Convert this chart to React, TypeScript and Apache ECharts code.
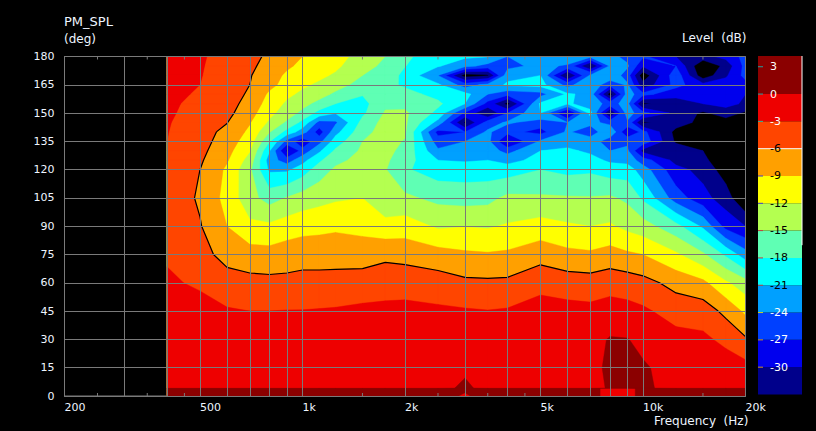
import React, { useEffect, useRef } from "react";
import * as echarts from "echarts";

const FONT = "'DejaVu Sans', sans-serif";
const TEXT = "#eef5ff";
const GRID = "#7a7a7a";

// Level thresholds (dB) and the colour of the band above each of them
const levelFloors = [-33, -30, -27, -24, -21, -18, -15, -12, -9, -6, -3, 0];
const levelTops = [-30, -27, -24, -21, -18, -15, -12, -9, -6, -3, 0, 4.18];
const levelColors = ["#00008B", "#0000EE", "#0040FF", "#00A0FF", "#00FFFF", "#5FFFB4", "#B4FF50", "#FFFF00", "#FFA000", "#FF4500", "#EE0000", "#8B0000"];
const levelLabels = [3, 0, -3, -6, -9, -12, -15, -18, -21, -24, -27, -30];
const labelColors = ["#fff", "#fff", "#fff", "#000", "#000", "#000", "#000", "#000", "#000", "#fff", "#fff", "#fff"];
const tickColors = ["#20a0a0", "#20a0a0", "#20c0a0", "#ffffff", "#4040d0", "#4040d0", "#c04040", "#c04040", "#c04040", "#d0d020", "#d09020", "#d09020"];

const xGridValues = [200, 300, 400, 500, 600, 700, 800, 900, 1000, 2000, 3000, 4000, 5000, 6000, 7000, 8000, 9000, 10000, 20000];
const xLabelValues = [200, 500, 1000, 2000, 5000, 10000, 20000];
const xMinorTicks = [250, 350, 450, 1500, 2500, 3500, 4500, 15000];
const CONTOUR_LEVEL = -6;

const freqs = [400, 500, 600, 700, 800, 900, 1000, 1120, 1250, 1500, 1750, 2000, 2500, 3000, 3500, 4000, 5000, 6000, 7000, 8000, 9000, 10000, 12500, 15000, 17500, 20000];
const degs = [0, 4, 4.2, 15, 30, 45, 60, 75, 90, 105, 120, 125, 130, 135, 140, 145, 150, 155, 160, 165, 170, 175, 180];

// Level in dB at each angle in degs, one list per frequency in freqs
const f400 = [1, 1, -1.5, -1.5, -1.5, -2, -2.6, -3.3, -3.8, -4, -3.9, -3.5, -3.2, -3, -2.9, -2.8, -2.6, -2.5, -2.3, -2.2, -2.1, -2, -2];
const f500 = [1, 1, -1.5, -1.6, -1.6, -2, -3.4, -5, -5.8, -6.4, -6, -5.6, -5.2, -4.8, -4.6, -4.3, -4, -3.7, -3.3, -3, -2.85, -2.75, -2.65];
const f600 = [1, 1, -1.5, -1.7, -1.5, -2.7, -4.8, -7, -9, -10, -9.5, -8.7, -8, -7.5, -6.9, -5.9, -5.2, -4.9, -4.7, -4.5, -4.4, -4.2, -4];
const f700 = [1, 1, -1.5, -1.4, -1.5, -3, -5.1, -7.7, -11.3, -14, -14.4, -13.2, -11.8, -10.5, -9.6, -8.8, -7.8, -7, -6.4, -6, -5.8, -5.5, -5.2];
const f800 = [1, 1, -1.5, -1.4, -1.5, -3, -5.2, -7.9, -11.4, -16.2, -21.5, -22.5, -20.8, -17.8, -14.8, -12.5, -11.2, -10.3, -9.5, -8.2, -7.7, -6.9, -6.5];
const f900 = [1, 1, -1.5, -1.3, -1.4, -2.9, -5.2, -7.5, -10.5, -14.8, -21.5, -25.5, -30.5, -25, -19, -15.5, -13.5, -12.5, -11.4, -10, -9.5, -8.5, -8];
const f1000 = [1, 1, -1.5, -1.2, -1.3, -2.9, -5, -7.2, -10, -13.7, -19.5, -22, -26, -29, -22.5, -18.8, -15.8, -14, -12.6, -11.5, -10.5, -9.7, -9];
const f1120 = [1, 1, -1.5, -1.1, -1.2, -2.8, -5, -7.2, -9.8, -13, -16.5, -18.5, -21.5, -25, -28.5, -25, -19, -16, -13.8, -12.5, -11.4, -10.5, -10];
const f1250 = [1, 1, -1.5, -1, -1.1, -2.7, -4.9, -7.2, -9.5, -12.4, -14.5, -15.8, -17.5, -19.5, -22, -24.5, -20.8, -18, -15.6, -13.7, -12.4, -11.4, -11];
const f1500 = [1, 1, -1.5, -0.8, -0.9, -2.3, -4.8, -7.2, -10, -12, -13.5, -14, -14.5, -15, -16, -17, -18.6, -19, -17.8, -16.2, -15, -14, -13];
const f1750 = [1, 1, -1.5, -0.7, -0.9, -2.2, -4.4, -6.6, -11, -14.2, -14.8, -14.5, -14.2, -14, -13.8, -14, -14.7, -15.6, -17, -17, -16.3, -15.6, -15];
const f2000 = [1, 1, -1.5, -0.7, -0.9, -2.2, -4.2, -7, -10.5, -14.4, -17.6, -16.6, -15.8, -15.2, -14.6, -14.5, -14.5, -15.8, -16.9, -18.5, -18.8, -17.9, -17.5];
const f2500 = [1, 1, -1.5, -0.8, -1, -2.5, -4.6, -7.8, -12.4, -15.8, -19.5, -21, -23.5, -25.5, -28, -22, -18.8, -17.4, -19, -20.5, -24, -20.7, -19.5];
const f3000 = [-0.3, 0.4, 0.9, -0.9, -1, -2.7, -5.4, -8.5, -12.1, -16.2, -19.5, -21.3, -22, -24, -27, -33.5, -27.5, -21, -20, -25.5, -34.5, -23, -20.5];
const f3500 = [1, 1, -1.5, -0.9, -1.1, -2.9, -5.5, -8.7, -12.3, -15.9, -19.5, -21, -22.5, -23, -23.5, -25.5, -33, -28, -24, -23, -33.5, -25, -20.8];
const f4000 = [1, 1, -1.5, -0.5, -1, -2.7, -5.4, -8.5, -11.7, -14.3, -19.5, -22, -25, -30.5, -26, -23.5, -27, -34, -26, -20.5, -22, -25, -24];
const f5000 = [1, 1, -1.5, -0.5, -0.8, -1.8, -3.9, -7.2, -10.8, -14.6, -18, -20, -21, -23.5, -28, -25.5, -21, -20.5, -25, -20, -21, -23, -24];
const f6000 = [1, 1, -1.5, -0.5, -1, -2, -4.5, -8.2, -11.6, -14.7, -18.8, -19, -20.5, -22, -23.5, -24, -31, -20.5, -20.5, -25, -33.5, -24.5, -21];
const f7000 = [1, 1, -1.5, -1.5, -0.9, -2.2, -4.7, -8.5, -12, -14.8, -18.5, -20, -21.5, -22, -26, -23, -20, -22.5, -22, -21.5, -23.5, -33.5, -23];
const f8000 = [-1, -1, 0.5, 1, 0.2, -1.7, -4.2, -7.8, -11.6, -14.6, -19.5, -21.5, -24, -26, -21, -25, -33.5, -25, -34.5, -26, -21.5, -23.5, -23];
const f9000 = [-1, -1, 0.5, 1, 0.1, -2, -4.5, -8.5, -12.8, -15.6, -19.5, -22, -23.5, -24.5, -30, -24.5, -22.5, -23, -22.5, -23.5, -25.5, -23.5, -25];
const f10000 = [1, 1, 0.8, 0.3, -0.7, -2.5, -5, -9, -13.7, -18.5, -22.5, -25.5, -31, -25, -26, -33.5, -26, -33.5, -26, -32, -35, -29.5, -26.5];
const f12500 = [1, 1, -1.5, -1, -2, -4.2, -7, -11.5, -17, -25.5, -29, -31, -31, -33.5, -34, -31.5, -31, -31.5, -29, -26, -25, -27, -30];
const f15000 = [1, 1, -1.5, -1.2, -2.4, -4.4, -8.3, -14.5, -21.5, -29, -31, -32, -33, -34.5, -36, -34, -33.5, -30, -30, -29, -35, -36, -31];
const f17500 = [1, 1, -1.5, -1.5, -3.7, -6.8, -11.5, -18.5, -28, -31.5, -34.5, -36, -36, -36, -36, -34.5, -31.5, -29, -30, -28.5, -30.5, -32, -29];
const f20000 = [1, 1, -1.5, -2, -5.6, -9.6, -13.8, -22.7, -30, -36, -36, -36, -36, -36, -36, -36, -33.5, -30.5, -30, -28, -26, -26, -26];

const levels = [f400, f500, f600, f700, f800, f900, f1000, f1120, f1250, f1500, f1750, f2000, f2500, f3000, f3500, f4000, f5000, f6000, f7000, f8000, f9000, f10000, f12500, f15000, f17500, f20000];

type Node = [number, number, number];

function forEachCell(api: any, visit: (quad: Node[]) => void) {
  const nodes: Node[][] = freqs.map((f, i) =>
    degs.map((d, j) => {
      const p = api.coord([f, d]);
      return [p[0], p[1], levels[i][j]] as Node;
    })
  );
  for (let i = 0; i < freqs.length - 1; i++) {
    for (let j = 0; j < degs.length - 1; j++) {
      visit([nodes[i][j], nodes[i + 1][j], nodes[i + 1][j + 1], nodes[i][j + 1]]);
    }
  }
}

function crossing(a: Node, b: Node, t: number): [number, number] {
  const k = (t - a[2]) / (b[2] - a[2]);
  return [a[0] + (b[0] - a[0]) * k, a[1] + (b[1] - a[1]) * k];
}

function clipAbove(quad: Node[], t: number): [number, number][] {
  const out: [number, number][] = [];
  for (let i = 0; i < quad.length; i++) {
    const a = quad[i];
    const b = quad[(i + 1) % quad.length];
    if (a[2] >= t) out.push([a[0], a[1]]);
    if (a[2] >= t !== b[2] >= t) out.push(crossing(a, b, t));
  }
  return out;
}

function renderBand(_params: any, api: any) {
  const idx = api.value(2);
  const t = levelFloors[idx];
  let d = "";
  forEachCell(api, (quad) => {
    const poly = clipAbove(quad, t);
    if (poly.length < 3) return;
    d += "M" + poly.map((p) => p[0].toFixed(1) + " " + p[1].toFixed(1)).join("L") + "Z";
  });
  if (!d) return { type: "group", children: [] };
  return {
    type: "path",
    shape: { pathData: d },
    style: { fill: levelColors[idx], stroke: levelColors[idx], lineWidth: 0.4 },
    silent: true,
  };
}

function renderContour(_params: any, api: any) {
  let d = "";
  forEachCell(api, (quad) => {
    const pts: [number, number][] = [];
    for (let i = 0; i < 4; i++) {
      const a = quad[i];
      const b = quad[(i + 1) % 4];
      if (a[2] >= CONTOUR_LEVEL !== b[2] >= CONTOUR_LEVEL) pts.push(crossing(a, b, CONTOUR_LEVEL));
    }
    for (let i = 0; i + 1 < pts.length; i += 2) {
      d += `M${pts[i][0].toFixed(1)} ${pts[i][1].toFixed(1)}L${pts[i + 1][0].toFixed(1)} ${pts[i + 1][1].toFixed(1)}`;
    }
  });
  return {
    type: "path",
    shape: { pathData: d },
    style: { fill: "none", stroke: "#000", lineWidth: 1.2 },
    silent: true,
  };
}

function renderMinorTick(_params: any, api: any) {
  const bottom = api.coord([api.value(0), 0]);
  const top = api.coord([api.value(0), 180]);
  const style = { stroke: GRID, lineWidth: 1 };
  return {
    type: "group",
    children: [
      { type: "line", shape: { x1: bottom[0], y1: bottom[1], x2: bottom[0], y2: bottom[1] - 3 }, style },
      { type: "line", shape: { x1: top[0], y1: top[1], x2: top[0], y2: top[1] + 3 }, style },
    ],
  };
}

function renderBarCell(_params: any, api: any) {
  const idx = api.value(1);
  const a = api.coord([0, levelFloors[idx]]);
  const b = api.coord([1, levelTops[idx]]);
  return {
    type: "rect",
    shape: { x: a[0], y: b[1], width: b[0] - a[0], height: a[1] - b[1] },
    style: { fill: levelColors[idx] },
    silent: true,
  };
}

function renderBarTick(_params: any, api: any) {
  const idx = api.value(1);
  const v = levelLabels[idx];
  const a = api.coord([0, v]);
  const b = api.coord([1, v]);
  const isContour = v === CONTOUR_LEVEL;
  return {
    type: "line",
    shape: { x1: a[0], y1: a[1], x2: isContour ? b[0] : a[0] + 5, y2: a[1] },
    style: { stroke: tickColors[idx], lineWidth: 1 },
    silent: true,
  };
}

function renderBarEdge(_params: any, api: any) {
  const a = api.coord([1, api.value(0)]);
  const b = api.coord([1, api.value(1)]);
  return { type: "line", shape: { x1: a[0], y1: a[1], x2: b[0], y2: b[1] }, style: { stroke: "#fff", lineWidth: 1 }, silent: true };
}

function formatFreq(v: number) {
  return v >= 1000 ? v / 1000 + "k" : String(v);
}

export default function App() {
  const ref = useRef<HTMLDivElement>(null);
  useEffect(() => {
    const chart = echarts.init(ref.current!, undefined, { renderer: "svg" });
    const text = (left: number, top: number, str: string, size = 12) => ({
      type: "text",
      x: left,
      y: top,
      style: { text: str, fill: TEXT, font: `${size}px ${FONT}`, textVerticalAlign: "middle" },
      silent: true,
    });
    chart.setOption({
      animation: false,
      backgroundColor: "#000",
      grid: [
        { left: 64.5, top: 56.5, width: 681, height: 339.5, show: true, backgroundColor: "#000", borderColor: GRID, borderWidth: 1 },
        { left: 758, top: 56, width: 44, height: 338.5 },
      ],
      xAxis: [
        {
          type: "log",
          gridIndex: 0,
          min: 200,
          max: 20000,
          z: 5,
          axisLine: { lineStyle: { color: GRID } },
          axisTick: { show: false, customValues: xGridValues },
          axisLabel: {
            customValues: xLabelValues,
            formatter: (v: number) => formatFreq(v),
            color: TEXT,
            fontFamily: FONT,
            fontSize: 11,
            align: "left",
            margin: 6,
          },
          minorTick: { show: false },
          minorSplitLine: { show: false },
          splitLine: { show: true, lineStyle: { color: GRID, width: 1 } },
        },
        { type: "value", gridIndex: 1, min: 0, max: 1, show: false },
      ],
      yAxis: [
        {
          type: "value",
          gridIndex: 0,
          min: 0,
          max: 180,
          interval: 15,
          z: 5,
          axisLine: { show: true, lineStyle: { color: GRID } },
          axisTick: { show: false },
          axisLabel: { color: TEXT, fontFamily: FONT, fontSize: 11, margin: 10 },
          splitLine: { show: true, lineStyle: { color: GRID, width: 1 } },
        },
        {
          type: "value",
          gridIndex: 1,
          min: -33,
          max: 4.18,
          z: 6,
          axisLine: { show: false },
          axisTick: { show: false },
          splitLine: { show: false },
          axisLabel: {
            inside: true,
            customValues: levelLabels,
            margin: 12,
            align: "left",
            fontFamily: FONT,
            fontSize: 11,
            color: (v: number) => labelColors[levelLabels.indexOf(Number(v))] || "#fff",
          },
        },
      ],
      graphic: [
        text(64, 21, "PM_SPL", 13),
        text(64, 39, "(deg)"),
        text(682, 38, "Level  (dB)"),
        text(654, 421, "Frequency  (Hz)"),
      ],
      series: [
        {
          type: "custom",
          xAxisIndex: 0,
          yAxisIndex: 0,
          clip: true,
          z: 2,
          renderItem: renderBand,
          data: levelFloors.map((_, i) => [freqs[0], 0, i]),
        },
        { type: "custom", xAxisIndex: 0, yAxisIndex: 0, clip: true, z: 3, renderItem: renderContour, data: [[freqs[0], 0]] },
        { type: "custom", xAxisIndex: 0, yAxisIndex: 0, z: 6, renderItem: renderMinorTick, encode: { x: 0 }, data: xMinorTicks.map((f) => [f, 0]) },
        { type: "custom", xAxisIndex: 1, yAxisIndex: 1, z: 2, renderItem: renderBarCell, data: levelFloors.map((_, i) => [0, i]) },
        { type: "custom", xAxisIndex: 1, yAxisIndex: 1, z: 3, renderItem: renderBarTick, data: levelLabels.map((_, i) => [0, i]) },
        { type: "custom", xAxisIndex: 1, yAxisIndex: 1, z: 3, renderItem: renderBarEdge, data: [[-16.6, 4.18]] },
      ],
    });
    return () => chart.dispose();
  }, []);
  return <div ref={ref} style={{ position: "fixed", left: 0, top: 0, width: 816, height: 431 }} />;
}
